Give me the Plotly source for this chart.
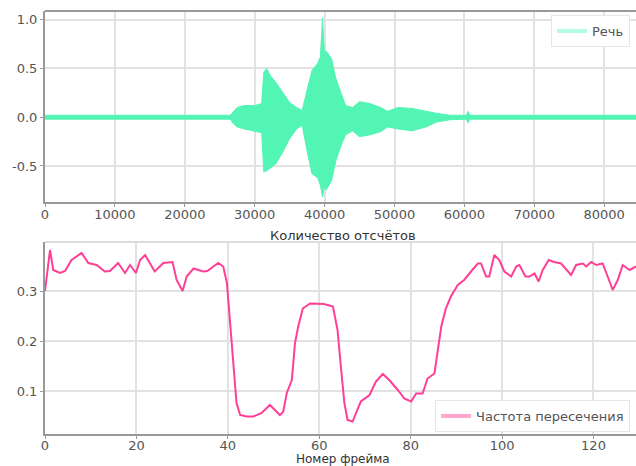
import plotly.graph_objects as go

# --- Speech waveform envelope (samples, upper, lower)
wave_samples = [0, 26500, 27000, 27500, 28500, 30000, 31000, 31300, 31700, 32300, 33000,
                34000, 35000, 36000, 36800, 37500, 38200, 39000, 39400, 39700, 40000, 40200,
                41000, 41600, 42300, 43000, 44000, 45000, 46500, 48000, 49000, 50500, 52500,
                54500, 56000, 58000, 60300, 60500, 60800, 84600]
wave_upper = [0.02, 0.02, 0.06, 0.10, 0.12, 0.12, 0.14, 0.46, 0.50, 0.42, 0.36,
              0.26, 0.15, 0.10, 0.07, 0.28, 0.48, 0.55, 0.62, 1.02, 0.62, 0.68,
              0.60, 0.40, 0.25, 0.12, 0.10, 0.16, 0.14, 0.10, 0.06, 0.10, 0.09,
              0.06, 0.04, 0.02, 0.02, 0.06, 0.02, 0.02]
wave_lower = [-0.02, -0.02, -0.07, -0.10, -0.12, -0.14, -0.16, -0.56, -0.55, -0.52, -0.48,
              -0.36, -0.22, -0.12, -0.08, -0.35, -0.58, -0.62, -0.70, -0.82, -0.70, -0.75,
              -0.65, -0.45, -0.30, -0.18, -0.14, -0.20, -0.18, -0.15, -0.10, -0.12, -0.14,
              -0.10, -0.05, -0.025, -0.02, -0.06, -0.02, -0.02]

# --- Zero crossing rate per frame
zcr_frames = [0, 1.1, 1.8, 3.3, 4.4, 5.8, 8, 9.5, 11.3, 13.1, 14.2, 16, 17.5, 18.6, 19.9,
              20.8, 21.9, 24, 25.9, 27.9, 28.8, 30.1, 31, 32.5, 34.6, 35.5, 37.9, 39, 39.8,
              40.5, 41.2, 41.9, 42.7, 44.1, 45.6, 47.4, 49.2, 50.3, 51.4, 52.1, 52.9, 54,
              54.7, 55.4, 56.4, 58, 59.3, 61, 63, 64, 64.8, 65.5, 66.2, 67.3, 68, 69.1, 71,
              72.4, 73.9, 75.3, 77.2, 78.6, 80.1, 81.2, 82.6, 83.7, 85.2, 85.9, 86.7, 87.7,
              88.8, 90.3, 91.7, 93.2, 94.7, 95.4, 96.5, 97.2, 98.3, 99.4, 100.5, 102, 103.1,
              103.8, 105.1, 106, 107.1, 108, 108.9, 110.2, 111.4, 112.9, 115.1, 116.2, 117.7,
              118.4, 119.5, 120.6, 122, 123.1, 124.2, 125.3, 126.4, 127.9, 129.3]
zcr_values = [0.30, 0.382, 0.342, 0.336, 0.34, 0.362, 0.376, 0.356, 0.352, 0.339, 0.34,
              0.356, 0.336, 0.352, 0.336, 0.362, 0.372, 0.339, 0.356, 0.358, 0.322, 0.30,
              0.329, 0.345, 0.339, 0.34, 0.356, 0.349, 0.316, 0.236, 0.156, 0.076, 0.052,
              0.049, 0.049, 0.056, 0.072, 0.062, 0.052, 0.058, 0.096, 0.122, 0.196, 0.229,
              0.265, 0.275, 0.275, 0.274, 0.269, 0.222, 0.142, 0.076, 0.042, 0.039, 0.055,
              0.079, 0.092, 0.119, 0.134, 0.122, 0.102, 0.085, 0.079, 0.095, 0.095, 0.125,
              0.135, 0.182, 0.229, 0.265, 0.289, 0.312, 0.322, 0.339, 0.355, 0.355, 0.329,
              0.329, 0.372, 0.362, 0.339, 0.329, 0.349, 0.352, 0.329, 0.329, 0.335, 0.319,
              0.342, 0.362, 0.358, 0.355, 0.332, 0.352, 0.355, 0.349, 0.358, 0.352, 0.355,
              0.329, 0.302, 0.322, 0.352, 0.342, 0.349]

x1_ticks = [0, 10000, 20000, 30000, 40000, 50000, 60000, 70000, 80000]
x1_labels = ["0", "10000", "20000", "30000", "40000", "50000", "60000", "70000", "80000"]
y1_ticks = [-0.5, 0.0, 0.5, 1.0]
y1_labels = ["-0.5", "0.0", "0.5", "1.0"]
x2_ticks = [0, 20, 40, 60, 80, 100, 120]
y2_ticks = [0.1, 0.2, 0.3]

GREEN = "#52f5b3"
PINK = "#ff3f96"
W, H = 636, 466
L = 45

fig = go.Figure()
fig.add_trace(go.Scatter(x=wave_samples, y=wave_lower, mode="lines",
                         line=dict(color=GREEN, width=1), showlegend=False,
                         xaxis="x", yaxis="y", hoverinfo="skip"))
fig.add_trace(go.Scatter(x=wave_samples, y=wave_upper, mode="lines",
                         line=dict(color=GREEN, width=1), fill="tonexty",
                         fillcolor=GREEN, showlegend=False, xaxis="x", yaxis="y"))
fig.add_trace(go.Scatter(x=[None], y=[None], mode="lines", name="Речь",
                         line=dict(color="#b2fde0", width=4), xaxis="x", yaxis="y",
                         legend="legend"))
fig.add_trace(go.Scatter(x=zcr_frames, y=zcr_values, mode="lines",
                         line=dict(color=PINK, width=2), showlegend=False,
                         xaxis="x2", yaxis="y2"))
fig.add_trace(go.Scatter(x=[None], y=[None], mode="lines", name="Частота пересечения",
                         line=dict(color="#ffa6cc", width=4), xaxis="x2", yaxis="y2",
                         legend="legend2"))

def ypaper(py):
    return 1 - py / H

top_dom = [ypaper(202), ypaper(11)]
bot_dom = [ypaper(434), ypaper(242)]

tickfont = dict(family="DejaVu Sans", size=13, color="#555555")
grid = dict(showgrid=True, gridcolor="#e2e2e2", gridwidth=2, zeroline=False,
            ticks="outside", ticklen=3, tickwidth=1, tickcolor="#999999",
            showline=True, linecolor="#999999", linewidth=2, tickfont=tickfont)

fig.update_layout(
    width=W, height=H,
    margin=dict(l=L, r=0, t=0, b=0),
    paper_bgcolor="white", plot_bgcolor="white",
    font=dict(family="DejaVu Sans", size=13, color="#333333"),
    xaxis=dict(domain=[0, 1], range=[0, 84550], tickvals=x1_ticks, ticktext=x1_labels,
               anchor="y", ticklabelstandoff=-4, **grid),
    yaxis=dict(domain=top_dom, range=[-0.87, 1.09], tickvals=y1_ticks, ticktext=y1_labels,
               anchor="x", **grid),
    xaxis2=dict(domain=[0, 1], range=[0, 129.3], tickvals=x2_ticks, anchor="y2",
                ticklabelstandoff=-5, **grid),
    yaxis2=dict(domain=bot_dom, range=[0.014, 0.398], tickvals=y2_ticks, anchor="x2", **grid),
    legend=dict(x=(630 - L) / (W - L), xanchor="right", y=ypaper(15), yanchor="top",
                bgcolor="white", bordercolor="#e6e6e6", borderwidth=1,
                font=dict(family="DejaVu Sans", size=13, color="#555555")),
    legend2=dict(x=(630 - L) / (W - L), xanchor="right", y=ypaper(400), yanchor="top",
                 bgcolor="white", bordercolor="#e6e6e6", borderwidth=1,
                 font=dict(family="DejaVu Sans", size=13, color="#555555")),
    showlegend=True,
)

# top spines
fig.add_shape(type="line", xref="paper", yref="paper", x0=0, x1=1, y0=top_dom[1], y1=top_dom[1],
              line=dict(color="#999999", width=2))
fig.add_shape(type="line", xref="paper", yref="paper", x0=0, x1=1, y0=bot_dom[1], y1=bot_dom[1],
              line=dict(color="#dcdcdc", width=2))

fig.add_annotation(text="Количество отсчётов", xref="paper", yref="paper",
                   x=(343 - L) / (W - L), y=ypaper(235), showarrow=False,
                   xanchor="center", yanchor="middle",
                   font=dict(family="DejaVu Sans", size=13, color="#333333"))
fig.add_annotation(text="Номер фрейма", xref="paper", yref="paper",
                   x=(343 - L) / (W - L), y=0, showarrow=False,
                   xanchor="center", yanchor="bottom", yshift=-2,
                   font=dict(family="DejaVu Sans", size=12, color="#333333"))

fig.write_html("out.html")
